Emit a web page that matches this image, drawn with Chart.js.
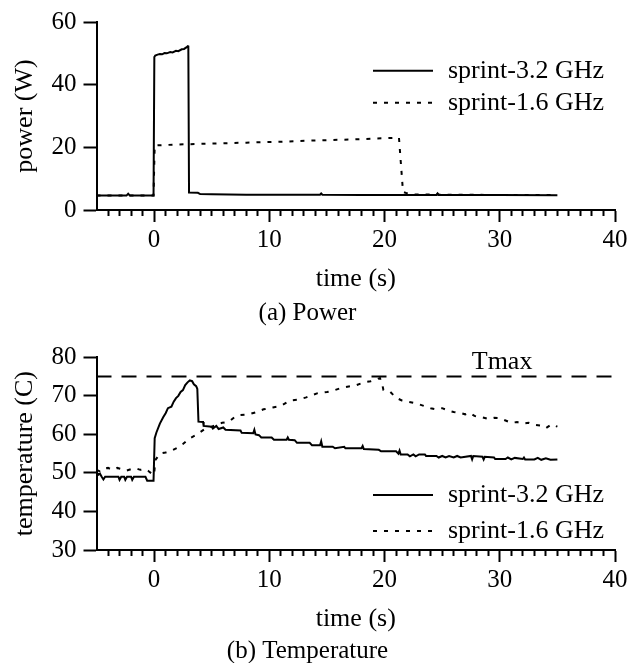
<!DOCTYPE html>
<html><head><meta charset="utf-8">
<script src="https://cdn.jsdelivr.net/npm/chart.js@4.4.0/dist/chart.umd.min.js"></script>
<style>
html,body{margin:0;padding:0;background:#fff;overflow:hidden;width:631px;height:663px;}
canvas{position:absolute;left:0;}
#c1{top:0;}
#c2{top:330px;}
</style></head><body>
<canvas id="c1" width="631" height="330"></canvas>
<canvas id="c2" width="631" height="345"></canvas>
<script>
// ---------- data ----------
const seriesNames = ['sprint-3.2 GHz', 'sprint-1.6 GHz'];
const xRange = [-5, 40];
const xTicks = [0, 10, 20, 30, 40];
const powerTicks = [0, 20, 40, 60];
const tempTicks = [30, 40, 50, 60, 70, 80];
const tmaxValue = 75;
const tmaxLabel = 'Tmax';
const tmaxLabelAt = 30.2;

const powerTime32 = [-5, -2.4, -2.25, -2.1, -0.05, 0.02, 0.1, 0.3, 0.5, 0.7, 0.9, 1.1, 1.4, 1.6, 1.9, 2.1, 2.4, 2.6, 2.8, 2.92, 2.97, 3.03, 3.8, 4.0, 5.0, 8.0, 12.0, 14.4, 14.5, 14.6, 18.0, 24.5, 24.6, 24.7, 30.0, 35.0];
const powerVal32  = [4.6, 4.6, 5.2, 4.6, 4.6, 48.8, 49.3, 49.6, 49.8, 49.7, 50.1, 50.0, 50.4, 50.3, 50.8, 50.7, 51.3, 51.4, 51.9, 52.3, 52.2, 5.6, 5.5, 5.1, 5.0, 4.9, 4.9, 4.9, 5.3, 4.9, 4.8, 4.8, 5.3, 4.8, 4.8, 4.7];

const powerTime16 = [-5, -0.05, 0.05, 2, 5, 8, 11, 14, 17, 20, 21.25, 21.6, 21.9, 22.2, 25, 30, 35];
const powerVal16  = [4.6, 4.6, 20.6, 20.9, 21.2, 21.5, 21.8, 22.2, 22.5, 22.9, 23.1, 5.8, 5.4, 5.0, 4.9, 4.8, 4.8];

const tempTime32 = [-5, -4.85, -4.7, -4.55, -4.4, -4.25, -3.1, -3.0, -2.85, -2.6, -2.5, -2.35, -2.0, -1.9, -1.75, -0.75, -0.6, -0.05,
  0.05, 0.2, 0.5, 0.8, 1.0, 1.2, 1.5, 1.7, 1.9, 2.1, 2.3, 2.5, 2.7, 2.9, 3.1, 3.3, 3.45, 3.65, 3.75, 3.85, 4.25, 4.3,
  5.0, 5.1, 5.4, 5.6, 6.0, 6.2, 7.5, 7.6, 8.6, 8.7, 8.8, 9.1, 9.3, 10.2, 10.4, 11.5, 11.6, 11.7, 12.2, 12.4, 13.5, 13.7,
  14.4, 14.5, 14.6, 15.5, 15.7, 16.5, 16.6, 18.0, 18.1, 18.2, 19.5, 19.7, 21.0, 21.2, 21.3, 21.4,
  22.0, 22.2, 22.5, 22.7, 23.0, 23.5, 23.6, 24.5, 24.7, 25.0, 25.3, 25.6, 26.0, 26.3, 26.6, 27.5, 27.6, 27.7,
  28.5, 28.6, 28.7, 29.5, 29.6, 30.5, 30.7, 31.0, 31.3, 32.0, 32.1, 32.2, 33.0, 33.3, 33.6, 34.0, 34.4, 35.0];
const tempVal32 = [50.3, 49.5, 49.8, 49.0, 48.3, 49.0, 49.0, 48.2, 49.0, 49.0, 48.2, 49.0, 49.0, 48.2, 49.0, 49.0, 48.0, 48.0,
  59.0, 60.5, 62.8, 64.5, 65.5, 66.8, 67.2, 68.5, 69.4, 70.0, 71.0, 71.5, 72.8, 73.5, 74.0, 73.8, 73.0, 72.5, 71.8, 63.3, 63.2, 62.2,
  62.0, 61.5, 62.2, 61.4, 61.8, 61.2, 61.0, 60.4, 60.3, 61.2, 60.0, 59.8, 59.2, 59.2, 58.6, 58.6, 59.2, 58.6, 58.5, 57.8, 57.8, 57.2,
  57.2, 58.2, 56.8, 56.8, 56.4, 56.8, 56.4, 56.4, 57.0, 56.2, 56.0, 55.6, 55.6, 55.0, 55.8, 54.8,
  54.8, 54.3, 54.8, 54.3, 54.8, 54.8, 54.4, 54.4, 54.0, 54.4, 54.0, 54.4, 54.0, 54.4, 54.0, 54.4, 53.5, 54.4,
  54.2, 53.5, 54.2, 54.0, 53.6, 53.6, 54.0, 53.5, 53.9, 53.6, 54.0, 53.5, 53.5, 53.9, 53.4, 53.8, 53.4, 53.5];

const tempTime16 = [-5, -4.7, -4.5, -4.0, -3.6, -3.2, -2.8, -2.4, -2.0, -1.6, -1.2, -0.8, -0.5, -0.2, 0.0,
  0.1, 0.5, 1.0, 1.5, 2.0, 2.5, 3.1, 3.6, 4.4, 5.0, 5.9, 6.5, 7.0, 7.4, 8.2, 8.9, 9.5, 10.3, 11.0, 11.8, 12.5, 13.2,
  14.2, 15.0, 15.5, 16.2, 17.0, 17.5, 18.2, 18.8, 19.6, 19.8, 19.9, 20.5, 21.0, 21.5, 22.0, 22.5, 23.0, 23.5, 24.0,
  24.5, 25.0, 25.5, 26.0, 26.5, 27.0, 27.4, 27.8, 28.5, 29.0, 29.5, 30.0, 30.5, 31.0, 31.5, 32.0, 32.5, 33.0, 33.5,
  34.0, 34.5, 35.0];
const tempVal16 = [50.8, 50.4, 51.0, 51.3, 50.8, 51.3, 51.0, 50.6, 51.0, 51.2, 50.8, 51.0, 50.5, 49.8, 49.5,
  53.3, 55.0, 55.3, 55.8, 56.5, 57.5, 59.0, 59.8, 61.4, 62.0, 63.0, 63.3, 64.5, 65.0, 65.2, 65.8, 66.5, 67.0, 67.4, 68.8, 69.0, 69.6,
  70.7, 71.0, 71.3, 72.0, 72.5, 72.7, 73.5, 73.8, 74.6, 73.0, 71.5, 71.0, 69.5, 68.8, 68.5, 68.2, 67.8, 67.3, 66.8,
  66.5, 66.8, 66.2, 65.8, 65.6, 65.2, 65.6, 64.8, 64.4, 64.0, 64.3, 64.2, 63.6, 63.0, 63.2, 62.8, 63.0, 62.5, 62.3,
  61.6, 62.6, 62.0];

// ---------- helpers ----------
Chart.defaults.font.family = "'Liberation Serif', 'Times New Roman', serif";
Chart.defaults.color = '#000';

const toXY = (ts, vs) => ts.map((t, i) => ({x: t, y: vs[i]}));

const solidStyle = {borderColor: '#000', borderWidth: 2, borderDash: []};
const dottedStyle = {borderColor: '#000', borderWidth: 2, borderDash: [4, 7]};

const lineLegend = {
  id: 'lineLegend',
  afterDatasetsDraw(chart, args, opts) {
    const {ctx, chartArea} = chart;
    ctx.save();
    chart.data.datasets.forEach(ds => {
      const k = seriesNames.indexOf(ds.label);
      if (k < 0) return;
      const y = chartArea.top + opts.top + k * opts.gap;
      const x0 = chartArea.right - opts.right;
      ctx.strokeStyle = ds.borderColor;
      ctx.lineWidth = ds.borderWidth;
      ctx.setLineDash(ds.borderDash || []);
      ctx.beginPath(); ctx.moveTo(x0, y); ctx.lineTo(x0 + opts.lineLen, y); ctx.stroke();
      ctx.setLineDash([]);
      ctx.fillStyle = '#000';
      ctx.font = opts.fontSize + "px 'Liberation Serif', serif";
      ctx.textBaseline = 'middle'; ctx.textAlign = 'left';
      ctx.fillText(ds.label, x0 + opts.lineLen + opts.textGap, y);
    });
    if (opts.note) {
      const xs = chart.scales.x, ys = chart.scales.y;
      ctx.font = opts.fontSize + "px 'Liberation Serif', serif";
      ctx.textAlign = 'center'; ctx.textBaseline = 'middle'; ctx.fillStyle = '#000';
      ctx.fillText(opts.note.text, xs.getPixelForValue(opts.note.x), ys.getPixelForValue(opts.note.y) - opts.note.dy);
    }
    ctx.restore();
  }
};

function xScale() {
  return {
    type: 'linear', min: xRange[0], max: xRange[1],
    afterBuildTicks: s => {
      const arr = [];
      for (let v = xRange[0] + 1; v <= xRange[1]; v++) arr.push({value: v});
      s.ticks = arr;
    },
    afterFit: s => { s.height = 84.6; },
    border: {display: true, color: '#000', width: 2},
    grid: {
      drawOnChartArea: false, tickLength: 12, tickWidth: 2, tickColor: '#000',
      tickBorderDash: c => (c.tick && xTicks.includes(c.tick.value)) ? [] : [5, 100]
    },
    ticks: {
      autoSkip: false, maxRotation: 0, minRotation: 0, padding: 3,
      font: {size: 25}, color: '#000',
      callback: v => xTicks.includes(v) ? String(v) : ''
    },
    title: {display: true, text: 'time (s)', font: {size: 26, lineHeight: 1.2}, color: '#000', padding: {top: 0, bottom: 0}}
  };
}

function yScale(ticks, title) {
  return {
    type: 'linear', min: ticks[0], max: ticks[ticks.length - 1],
    afterBuildTicks: s => { s.ticks = ticks.map(v => ({value: v})); },
    afterFit: s => { s.width = 96.5; },
    border: {display: true, color: '#000', width: 2},
    grid: {drawOnChartArea: false, tickLength: 13, tickWidth: 2, tickColor: '#000'},
    ticks: {font: {size: 25}, color: '#000', padding: 7, callback: v => String(v)},
    title: {display: true, text: title, font: {size: 26, lineHeight: 1.2}, color: '#000', padding: {top: 9.4, bottom: 0}}
  };
}

function lineDs(label, ts, vs, style) {
  return Object.assign({label, data: toXY(ts, vs), pointRadius: 0, fill: false, tension: 0}, style);
}

// ---------- (a) Power ----------
new Chart(document.getElementById('c1'), {
  type: 'line',
  data: {datasets: [
    lineDs(seriesNames[0], powerTime32, powerVal32, solidStyle),
    lineDs(seriesNames[1], powerTime16, powerVal16, dottedStyle)
  ]},
  options: {
    responsive: false, animation: false, events: [],
    layout: {padding: {top: 17.3, right: 16, bottom: 4.5, left: 0}},
    scales: {x: xScale(), y: yScale(powerTicks, 'power (W)')},
    plugins: {
      legend: {display: false}, tooltip: {enabled: false},
      title: {display: true, position: 'bottom', text: '(a) Power', color: '#000',
        font: {size: 25, weight: 'normal', lineHeight: 1}, padding: {top: 5.9, bottom: 0}},
      lineLegend: {top: 48.7, gap: 32, right: 242, lineLen: 60, textGap: 15, fontSize: 26}
    }
  },
  plugins: [lineLegend]
});

// ---------- (b) Temperature ----------
new Chart(document.getElementById('c2'), {
  type: 'line',
  data: {datasets: [
    lineDs(seriesNames[0], tempTime32, tempVal32, solidStyle),
    lineDs(seriesNames[1], tempTime16, tempVal16, dottedStyle),
    lineDs(tmaxLabel, xRange, [tmaxValue, tmaxValue], {borderColor: '#000', borderWidth: 2, borderDash: [15, 10]})
  ]},
  options: {
    responsive: false, animation: false, events: [],
    layout: {padding: {top: 27.3, right: 16, bottom: 10.8, left: 0}},
    scales: {x: xScale(), y: yScale(tempTicks, 'temperature (C)')},
    plugins: {
      legend: {display: false}, tooltip: {enabled: false},
      title: {display: true, position: 'bottom', text: '(b) Temperature', color: '#000',
        font: {size: 25, weight: 'normal', lineHeight: 1}, padding: {top: 4.6, bottom: 0}},
      lineLegend: {top: 137.7, gap: 36, right: 242, lineLen: 60, textGap: 15, fontSize: 26,
        note: {text: tmaxLabel, x: tmaxLabelAt, y: tmaxValue, dy: 14}}
    }
  },
  plugins: [lineLegend]
});
</script>
</body></html>
